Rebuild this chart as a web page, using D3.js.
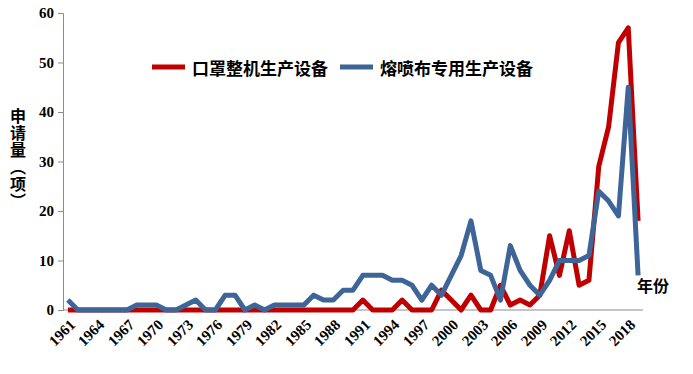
<!DOCTYPE html>
<html>
<head>
<meta charset="utf-8">
<script src="https://cdn.jsdelivr.net/npm/d3@7"></script>
<style>
  html, body { margin: 0; padding: 0; background: #fff; }
  #chart { position: relative; width: 693px; height: 374px; }
  svg { display: block; }
  .tick-label { font-family: "Liberation Serif", "Times New Roman", serif; font-weight: bold; font-size: 15px; fill: #000; }
  .cjk { font-family: "Noto Sans CJK SC", sans-serif; font-weight: bold; fill: #000; }
  .x-label {
    position: absolute;
    font-family: "Liberation Serif", "Times New Roman", serif;
    font-weight: bold; font-size: 15px; line-height: 15px; color: #000;
    white-space: nowrap;
    transform-origin: 100% 50%;
    transform: rotate(-45deg);
  }
</style>
</head>
<body>
<div id="chart"></div>
<script>
// years 1961..2019
const years = d3.range(1961, 2020);
const tickYears = d3.range(1961, 2019, 3);
const yTicks = [0, 10, 20, 30, 40, 50, 60];

const seriesNames = ['口罩整机生产设备', '熔喷布专用生产设备'];
const seriesColors = ['#C00000', '#3D6597'];

// 口罩整机生产设备
const maskMachine = [
  0, 0, 0, 0, 0, 0, 0, 0, 0, 0,      // 1961-1970
  0, 0, 0, 0, 0, 0, 0, 0, 0, 0,      // 1971-1980
  0, 0, 0, 0, 0, 0, 0, 0, 0, 0,      // 1981-1990
  2, 0, 0, 0, 2, 0, 0, 0, 4, 2,      // 1991-2000
  0, 3, 0, 0, 5, 1, 2, 1, 3, 15,     // 2001-2010
  7, 16, 5, 6, 29, 37, 54, 57, 18    // 2011-2019
];

// 熔喷布专用生产设备
const meltblown = [
  2, 0, 0, 0, 0, 0, 0, 1, 1, 1,      // 1961-1970
  0, 0, 1, 2, 0, 0, 3, 3, 0, 1,      // 1971-1980
  0, 1, 1, 1, 1, 3, 2, 2, 4, 4,      // 1981-1990
  7, 7, 7, 6, 6, 5, 2, 5, 3, 7,      // 1991-2000
  11, 18, 8, 7, 2, 13, 8, 5, 3, 6,   // 2001-2010
  10, 10, 10, 11, 24, 22, 19, 45, 7  // 2011-2019
];

const W = 693, H = 374;
const margin = { left: 63, right: 50, top: 13, bottom: 64 };

const container = d3.select('#chart');
const svg = container.append('svg')
  .attr('width', W).attr('height', H);

const x = d3.scalePoint()
  .domain(years)
  .range([margin.left, W - margin.right])
  .padding(0.5);

const y = d3.scaleLinear()
  .domain([0, 60])
  .range([H - margin.bottom, margin.top]);

// y axis
const yAxis = svg.append('g')
  .attr('transform', `translate(${margin.left},0)`)
  .call(d3.axisLeft(y).tickValues(yTicks).tickSize(5).tickPadding(4));
yAxis.selectAll('path, line').attr('stroke', '#8c8c8c');
yAxis.selectAll('text').attr('class', 'tick-label');

// x axis baseline
svg.append('line')
  .attr('x1', margin.left).attr('x2', W - margin.right)
  .attr('y1', y(0)).attr('y2', y(0))
  .attr('stroke', '#8c8c8c');

// x tick labels as html, rotated -45deg; right edge pinned near the tick
const labelW = 40;
container.selectAll('.x-label')
  .data(tickYears)
  .enter()
  .append('div')
  .attr('class', 'x-label')
  .style('width', labelW + 'px')
  .style('text-align', 'right')
  .style('left', d => (x(d) + 5 - labelW) + 'px')
  .style('top', (y(0) + 12 - 7.5) + 'px')
  .text(d => d);

// lines
const line = d3.line()
  .x((d, i) => x(years[i]))
  .y(d => y(d));

[maskMachine, meltblown].forEach((vals, i) => {
  svg.append('path')
    .datum(vals)
    .attr('fill', 'none')
    .attr('stroke', seriesColors[i])
    .attr('stroke-width', 5)
    .attr('stroke-linejoin', 'round')
    .attr('d', line);
});

// legend
const legendItems = [
  { x: 152, name: seriesNames[0], color: seriesColors[0] },
  { x: 340, name: seriesNames[1], color: seriesColors[1] }
];
const legend = svg.append('g');
legendItems.forEach(item => {
  legend.append('line')
    .attr('x1', item.x).attr('x2', item.x + 33)
    .attr('y1', 67).attr('y2', 67)
    .attr('stroke', item.color)
    .attr('stroke-width', 5);
  legend.append('text')
    .attr('class', 'cjk')
    .attr('x', item.x + 40).attr('y', 67)
    .attr('dominant-baseline', 'central')
    .attr('font-size', 17)
    .text(item.name);
});

// y axis title, vertical writing
svg.append('text')
  .attr('class', 'cjk')
  .attr('font-size', 16)
  .attr('x', 18).attr('y', 108)
  .style('writing-mode', 'vertical-rl')
  .style('letter-spacing', '1px')
  .text('申请量（项）');

// x axis title
svg.append('text')
  .attr('class', 'cjk')
  .attr('font-size', 16)
  .attr('x', 637).attr('y', 292)
  .text('年份');
</script>
</body>
</html>
